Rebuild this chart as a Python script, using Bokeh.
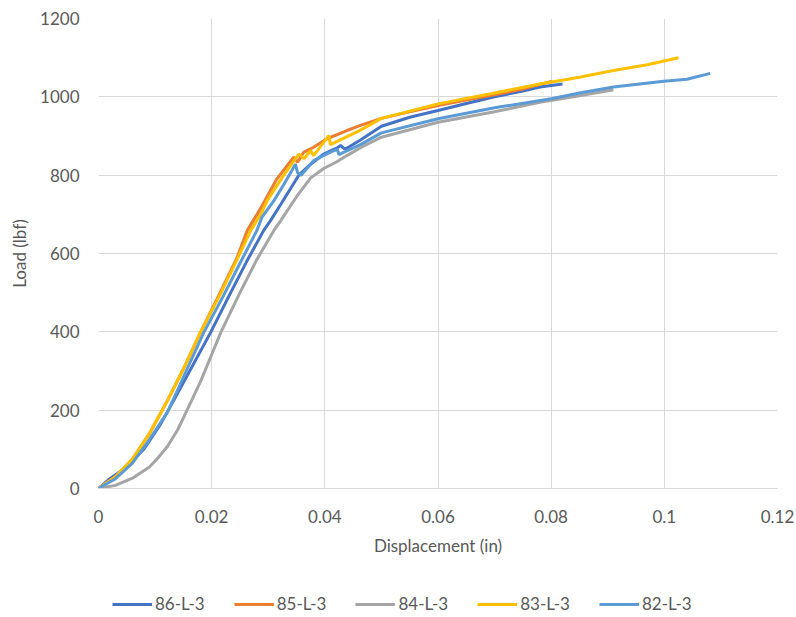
from bokeh.plotting import figure
from bokeh.layouts import column
from bokeh.models import Legend, LegendItem, NumeralTickFormatter, FixedTicker, Range1d
from bokeh.embed import file_html
from bokeh.resources import INLINE

# ---- data (displacement in, load lbf) ----
x86 = [0, 0.002, 0.005, 0.008, 0.011, 0.0133, 0.0165, 0.0198, 0.023, 0.0262, 0.0292, 0.0304,
       0.0322, 0.0354, 0.0375, 0.0398, 0.041, 0.0422, 0.0428, 0.0434, 0.0438, 0.0463, 0.05,
       0.055, 0.06, 0.065, 0.07, 0.075, 0.078, 0.082]
y86 = [0, 25, 55, 100, 165, 225, 310, 398, 490, 580, 659, 684,
       725, 800, 828, 854, 862, 870, 876, 868, 868, 890, 925,
       948, 965, 983, 1000, 1015, 1025, 1033]

x85 = [0, 0.003, 0.006, 0.009, 0.0122, 0.015, 0.018, 0.0215, 0.0245, 0.0263, 0.0286, 0.0315,
       0.0345, 0.0352, 0.0363, 0.038, 0.0404, 0.0439, 0.0463, 0.05, 0.055, 0.06, 0.065, 0.07,
       0.075, 0.0802]
y85 = [0, 30, 75, 140, 225, 305, 398, 500, 590, 659, 714, 790,
       846, 833, 859, 871, 893, 914, 927, 945, 962, 978, 992, 1005,
       1020, 1040]

x84 = [0, 0.003, 0.0062, 0.009, 0.0105, 0.0122, 0.014, 0.0163, 0.018, 0.0216, 0.025, 0.028,
       0.031, 0.0322, 0.035, 0.0375, 0.0398, 0.0422, 0.0439, 0.0463, 0.05, 0.06, 0.07, 0.078,
       0.085, 0.091]
y84 = [0, 8, 28, 55, 78, 108, 150, 220, 272, 398, 500, 585,
       659, 684, 745, 793, 817, 835, 850, 870, 897, 935, 962, 986,
       1003, 1018]

x83 = [0, 0.003, 0.006, 0.009, 0.0122, 0.015, 0.018, 0.0215, 0.0245, 0.0269, 0.0289, 0.0298,
       0.0325, 0.0354, 0.0363, 0.0375, 0.038, 0.0407, 0.041, 0.0463, 0.05, 0.06, 0.07, 0.078,
       0.085, 0.091, 0.097, 0.1025]
y83 = [0, 30, 75, 140, 225, 305, 398, 495, 585, 659, 706, 735,
       795, 854, 842, 863, 850, 901, 878, 915, 945, 982, 1010, 1033,
       1050, 1067, 1082, 1100]

x82 = [0, 0.003, 0.006, 0.009, 0.0122, 0.0155, 0.0186, 0.022, 0.025, 0.028, 0.0289, 0.031,
       0.0327, 0.0343, 0.0348, 0.0352, 0.0358, 0.038, 0.041, 0.0422, 0.0425, 0.043, 0.0463,
       0.05, 0.06, 0.07, 0.08, 0.085, 0.091, 0.0999, 0.104, 0.1081]
y82 = [0, 25, 65, 125, 195, 300, 398, 490, 575, 659, 693, 735,
       775, 815, 828, 806, 800, 837, 859, 866, 852, 856, 878,
       908, 944, 972, 995, 1010, 1025, 1040, 1045, 1060]

names = ["86-L-3", "85-L-3", "84-L-3", "83-L-3", "82-L-3"]
colors = ["#4472C4", "#ED7D31", "#A5A5A5", "#FFC000", "#5B9BD5"]
xs = [x86, x85, x84, x83, x82]
ys = [y86, y85, y84, y83, y82]

x_ticks = [0, 0.02, 0.04, 0.06, 0.08, 0.1, 0.12]
y_ticks = [0, 200, 400, 600, 800, 1000, 1200]

FONT = "Lato"
TXT = "#595959"
GRID = "#D9D9D9"

p = figure(width=796, height=580, output_backend="svg", toolbar_location=None,
           x_range=Range1d(0, 0.12), y_range=Range1d(0, 1200),
           min_border_left=98, min_border_right=19, min_border_top=18, min_border_bottom=92)
p.outline_line_color = None
p.background_fill_color = "white"

for xv, yv, c in zip(xs, ys, colors):
    p.line(xv, yv, line_color=c, line_width=3)

p.xaxis.ticker = FixedTicker(ticks=x_ticks)
p.yaxis.ticker = FixedTicker(ticks=y_ticks)
p.xaxis.formatter = NumeralTickFormatter(format="0.[00]")
p.yaxis.formatter = NumeralTickFormatter(format="0")

for ax in (p.xaxis[0], p.yaxis[0]):
    ax.major_tick_line_color = None
    ax.minor_tick_line_color = None
    ax.major_label_text_font = FONT
    ax.major_label_text_font_size = "17px"
    ax.major_label_text_color = TXT
    ax.axis_label_text_font = FONT
    ax.axis_label_text_font_size = "17px"
    ax.axis_label_text_font_style = "normal"
    ax.axis_label_text_color = TXT

p.xaxis.axis_line_color = GRID
p.yaxis.axis_line_color = None
p.xaxis.axis_label = "Displacement (in)"
p.yaxis.axis_label = "Load (lbf)"
p.yaxis.major_label_standoff = 13
p.yaxis.axis_label_standoff = 7
p.xaxis.major_label_standoff = 15
p.xaxis.axis_label_standoff = 9

p.xgrid.grid_line_color = GRID
p.ygrid.grid_line_color = GRID
p.xgrid.grid_line_width = 1
p.ygrid.grid_line_width = 1

# legend strip below the chart (legend keys only; NaN data draws nothing)
nan = float("nan")
lg = figure(width=796, height=37, output_backend="svg", toolbar_location=None,
            x_axis_location=None, y_axis_location=None,
            x_range=Range1d(0, 1), y_range=Range1d(0, 1),
            min_border_left=0, min_border_right=0, min_border_top=0, min_border_bottom=0)
lg.outline_line_color = None
lg.xgrid.visible = False
lg.ygrid.visible = False
keys = [lg.line(x=[nan, nan], y=[nan, nan], line_color=c, line_width=3) for c in colors]

legend = Legend(items=[LegendItem(label=n, renderers=[r]) for n, r in zip(names, keys)],
                orientation="horizontal", location=(14, 3))
legend.label_text_font = FONT
legend.label_text_font_size = "17px"
legend.label_text_color = TXT
legend.glyph_width = 40
legend.glyph_height = 20
legend.label_standoff = 3
legend.spacing = 29
legend.border_line_color = None
legend.background_fill_alpha = 0
legend.margin = 0
legend.padding = 0
lg.add_layout(legend)

layout = column(p, lg, spacing=0)
open("out.html", "w").write(file_html(layout, INLINE))
